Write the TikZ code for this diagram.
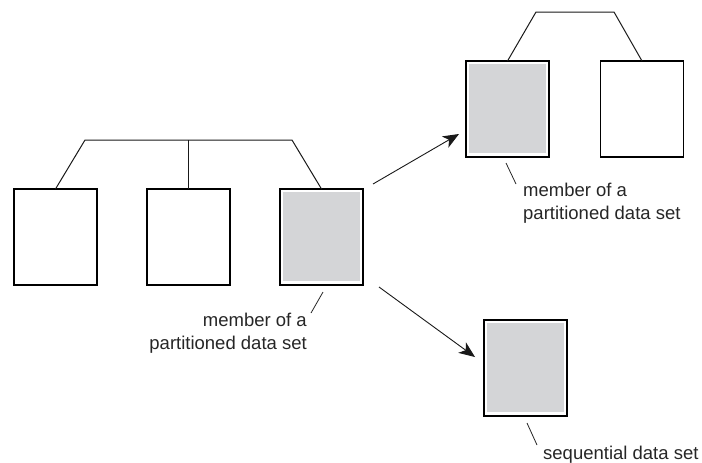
\documentclass[tikz,border=0pt]{standalone}
\usepackage{fontspec}
\setmainfont{Liberation Sans}
\usetikzlibrary{arrows.meta}
\definecolor{memgray}{HTML}{D4D5D7}
\begin{document}
\begin{tikzpicture}[x=1pt,y=-1pt,
  dsbox/.style={draw=black,line width=1.05pt,fill=white,minimum width=83pt,minimum height=96pt,inner sep=0pt,outer sep=0pt},
  shaded/.style={dsbox,path picture={\fill[memgray]
      ([shift={(2.8pt,-2.8pt)}]path picture bounding box.north west) rectangle
      ([shift={(-2.8pt,3.8pt)}]path picture bounding box.south east);}},
  link/.style={draw=black!90,line width=1pt},
  arr/.style={draw=black!90,line width=0.9pt,-{Stealth[length=16pt,width=13pt,inset=4.5pt]}},
  lbl/.style={font=\fontsize{18.5pt}{23pt}\selectfont,inner sep=0pt,text=black!85},
  pointer/.style={draw=black!85,line width=0.8pt}]
\useasboundingbox (0,0) rectangle (702,463);

% left group
\node[dsbox]  (L1) at (55.5,237) {};
\node[dsbox]  (L2) at (188.5,237) {};
\node[shaded] (L3) at (321.5,237) {};
\coordinate (busL) at (85,140);
\coordinate (busR) at (292,140);
\draw[link] (L1.north) -- (busL) -- (busR) -- (L3.north);
\draw[link] (L2.north) -- (L2.north |- busL);

% top right group
\node[shaded] (TA) at (507.5,109) {};
\node[dsbox]  (TB) at (642,109) {};
\coordinate (tbusL) at (536,12);
\coordinate (tbusR) at (614,12);
\draw[link] (TA.north) -- (tbusL) -- (tbusR) -- (TB.north);

% sequential
\node[shaded] (S) at (525.5,368) {};

% arrows
\coordinate (a1s) at (373,184);
\coordinate (a1e) at (459,134);
\coordinate (a2s) at (379,287);
\coordinate (a2e) at (475,357);
\draw[arr] (a1s) -- (a1e);
\draw[arr] (a2s) -- (a2e);

% labels
\node[lbl,align=right,anchor=north east] (lab1) at (307,313) {member of a\\partitioned data set};
\coordinate (p1a) at (323,292);
\coordinate (p1b) at (311,313);
\draw[pointer] (p1a) -- (p1b);

\node[lbl,align=left,anchor=north west] (lab2) at (523,183) {member of a\\partitioned data set};
\coordinate (p2a) at (506,163);
\coordinate (p2b) at (516,184);
\draw[pointer] (p2a) -- (p2b);

\node[lbl,anchor=base west] (lab3) at (543,459) {sequential data set};
\coordinate (p3a) at (527,423);
\coordinate (p3b) at (537,445);
\draw[pointer] (p3a) -- (p3b);
\end{tikzpicture}
\end{document}
